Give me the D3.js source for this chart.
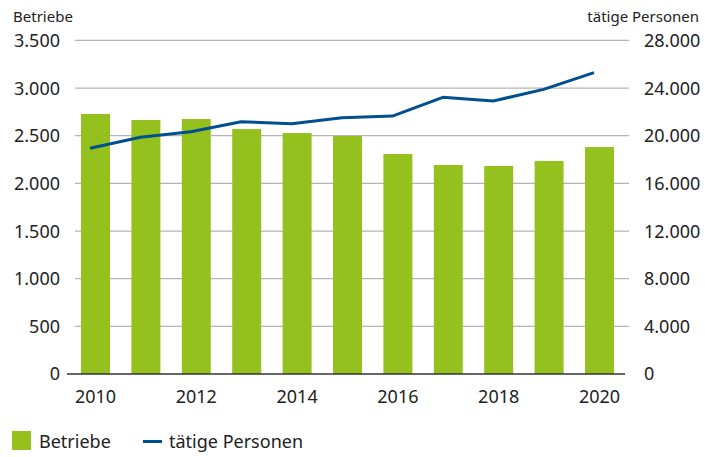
<!DOCTYPE html>
<html>
<head>
<meta charset="utf-8">
<script src="https://cdn.jsdelivr.net/npm/d3@7"></script>
<style>
  body { margin: 0; background: #fff; }
  text { font-family: "Noto Sans", sans-serif; fill: #222; }
</style>
</head>
<body>
<div id="chart"></div>
<script>
// Data
const years = ["2010", "2011", "2012", "2013", "2014", "2015", "2016", "2017", "2018", "2019", "2020"];
const betriebe = [2728, 2665, 2675, 2570, 2528, 2497, 2308, 2193, 2182, 2235, 2381];
const personen = [18950, 19870, 20340, 21180, 21000, 21510, 21650, 23220, 22910, 23890, 25290];
const leftTicks = [0, 500, 1000, 1500, 2000, 2500, 3000, 3500];
const rightTicks = [0, 4000, 8000, 12000, 16000, 20000, 24000, 28000];
const xLabels = ["2010", "2012", "2014", "2016", "2018", "2020"];

const width = 705, height = 457;
const green = "#95c11f", blue = "#004f8e";

const fmt = d3.formatLocale({ decimal: ",", thousands: ".", grouping: [3], currency: ["", "€"] }).format(",");

const svg = d3.select("#chart").append("svg")
  .attr("width", width)
  .attr("height", height);

// Scales
const x = d3.scaleBand().domain(years).range([70.3, 624.7]).paddingInner(0.425).paddingOuter(0.2125);
const xLine = d3.scalePoint().domain(years).range([90, 594]);
const yL = d3.scaleLinear().domain([0, 3500]).range([374, 40.4]);
const yR = d3.scaleLinear().domain([0, 28000]).range([374, 40.4]);

// Gridlines
svg.append("g").selectAll("line")
  .data(leftTicks.slice(1))
  .enter().append("line")
  .attr("x1", 75).attr("x2", 629)
  .attr("y1", d => yL(d)).attr("y2", d => yL(d))
  .attr("stroke", "#b4b4b4")
  .attr("stroke-width", 1.3);

// Bars
svg.append("g").selectAll("rect")
  .data(years)
  .enter().append("rect")
  .attr("x", d => x(d))
  .attr("width", x.bandwidth())
  .attr("y", (d, i) => yL(betriebe[i]))
  .attr("height", (d, i) => yL(0) - yL(betriebe[i]))
  .attr("fill", green);

// Baseline
svg.append("line")
  .attr("x1", 67).attr("x2", 625)
  .attr("y1", yL(0)).attr("y2", yL(0))
  .attr("stroke", "#333")
  .attr("stroke-width", 1.5);

// Line
const line = d3.line()
  .x((d, i) => xLine(years[i]))
  .y(d => yR(d));

svg.append("path")
  .datum(personen)
  .attr("d", line)
  .attr("fill", "none")
  .attr("stroke", blue)
  .attr("stroke-width", 3)
  .attr("stroke-linejoin", "round");

// Left axis labels
svg.append("g").selectAll("text")
  .data(leftTicks)
  .enter().append("text")
  .attr("x", 60)
  .attr("y", d => yL(d))
  .attr("dy", "0.36em")
  .attr("text-anchor", "end")
  .style("font-size", "18px")
  .text(d => fmt(d));

// Right axis labels
svg.append("g").selectAll("text")
  .data(rightTicks)
  .enter().append("text")
  .attr("x", 644)
  .attr("y", d => yR(d))
  .attr("dy", "0.36em")
  .style("font-size", "18px")
  .text(d => fmt(d));

// X labels
svg.append("g").selectAll("text")
  .data(xLabels)
  .enter().append("text")
  .attr("x", d => x(d) + x.bandwidth() / 2)
  .attr("y", 403)
  .attr("text-anchor", "middle")
  .style("font-size", "18px")
  .text(d => d);

// Axis titles
svg.append("text")
  .attr("x", 13).attr("y", 22)
  .style("font-size", "15px")
  .text("Betriebe");

svg.append("text")
  .attr("x", 699).attr("y", 22)
  .attr("text-anchor", "end")
  .style("font-size", "15px")
  .text("tätige Personen");

// Legend
const legend = svg.append("g");
legend.append("rect")
  .attr("x", 12).attr("y", 431)
  .attr("width", 19).attr("height", 19)
  .attr("fill", green);
legend.append("text")
  .attr("x", 39).attr("y", 448)
  .style("font-size", "18px")
  .text("Betriebe");
legend.append("line")
  .attr("x1", 143).attr("x2", 162)
  .attr("y1", 441.5).attr("y2", 441.5)
  .attr("stroke", blue)
  .attr("stroke-width", 3);
legend.append("text")
  .attr("x", 169).attr("y", 448)
  .style("font-size", "18px")
  .text("tätige Personen");
</script>
</body>
</html>
